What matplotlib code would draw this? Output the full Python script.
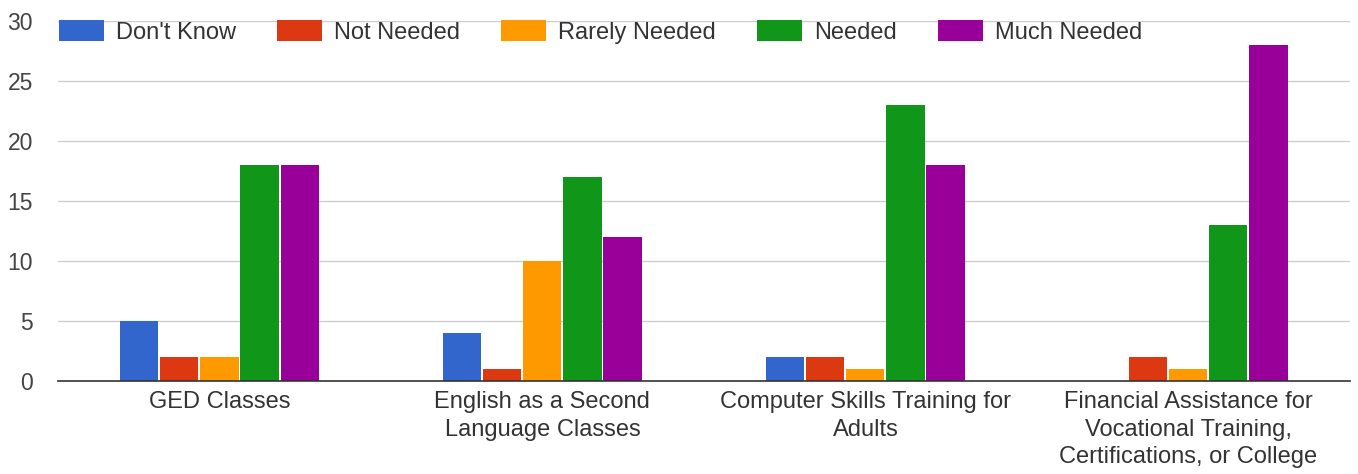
import numpy as np
import matplotlib
matplotlib.use("Agg")
import matplotlib.pyplot as plt

categories = ["GED Classes",
              "English as a Second\nLanguage Classes",
              "Computer Skills Training for\nAdults",
              "Financial Assistance for\nVocational Training,\nCertifications, or College"]
series = ["Don't Know", "Not Needed", "Rarely Needed", "Needed", "Much Needed"]
dont_know = [5, 4, 2, 0]
not_needed = [2, 1, 2, 2]
rarely_needed = [2, 10, 1, 1]
needed = [18, 17, 23, 13]
much_needed = [18, 12, 18, 28]
colors = ["#3366CC", "#DC3912", "#FF9900", "#109618", "#990099"]

plt.rcParams["font.family"] = ["Liberation Sans", "DejaVu Sans"]
FS = 17

fig = plt.figure(figsize=(13.58, 4.74), dpi=100)
ax = fig.add_axes([0.0427, 0.196, 0.9513, 0.7597])

x = np.arange(len(categories))
w = 0.124
values = [dont_know, not_needed, rarely_needed, needed, much_needed]
for i, (name, vals, c) in enumerate(zip(series, values, colors)):
    ax.bar(x + (i - 2) * w, vals, width=w - 0.006, color=c, label=name, zorder=3)

ax.set_xlim(-0.5, len(categories) - 0.5)
ax.set_ylim(0, 30)
ax.set_yticks(range(0, 31, 5))
ax.set_xticks(x)
ax.set_xticklabels(categories, fontsize=FS, color="#333333", linespacing=1.34)
ax.tick_params(axis="y", labelsize=16.5, labelcolor="#444444", length=0, pad=18)
ax.tick_params(axis="x", length=0, pad=7)
ax.grid(True, axis="y", color="#cccccc", linewidth=1, zorder=0)
for s in ["top", "right", "left"]:
    ax.spines[s].set_visible(False)
ax.spines["bottom"].set_color("#333333")
ax.spines["bottom"].set_linewidth(1.2)
ax.spines["bottom"].set_zorder(4)

leg = fig.legend(loc="upper left", bbox_to_anchor=(59 / 1358, 1 - 20 / 474), ncol=5,
                 frameon=False, fontsize=FS, handlelength=1.9, handleheight=1.0,
                 handletextpad=0.5, columnspacing=1.76, borderpad=0, borderaxespad=0)
for t in leg.get_texts():
    t.set_color("#333333")

fig.savefig("out.png", dpi=100)
